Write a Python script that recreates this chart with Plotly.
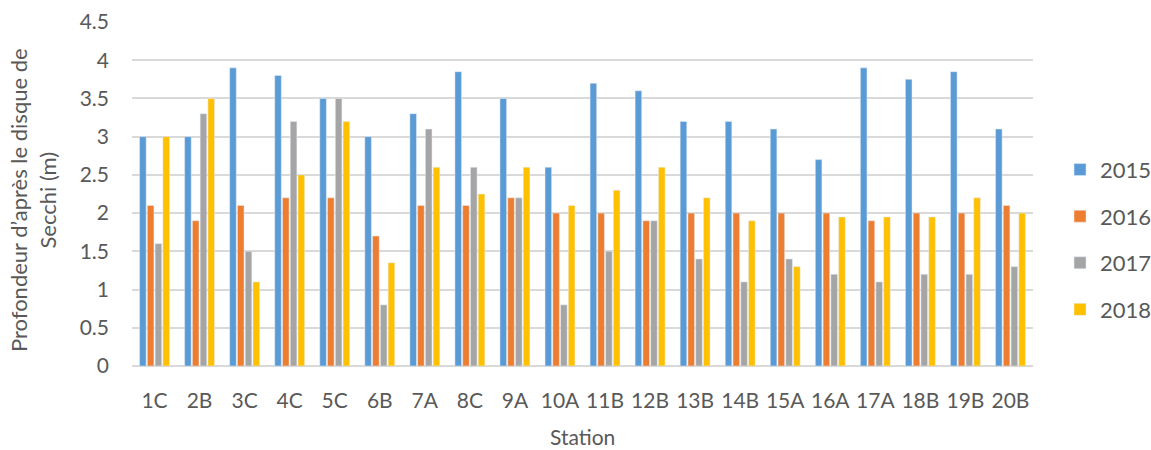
import plotly.graph_objects as go

stations = ["1C", "2B", "3C", "4C", "5C", "6B", "7A", "8C", "9A", "10A",
            "11B", "12B", "13B", "14B", "15A", "16A", "17A", "18B", "19B", "20B"]
v2015 = [3.0, 3.0, 3.9, 3.8, 3.5, 3.0, 3.3, 3.85, 3.5, 2.6,
         3.7, 3.6, 3.2, 3.2, 3.1, 2.7, 3.9, 3.75, 3.85, 3.1]
v2016 = [2.1, 1.9, 2.1, 2.2, 2.2, 1.7, 2.1, 2.1, 2.2, 2.0,
         2.0, 1.9, 2.0, 2.0, 2.0, 2.0, 1.9, 2.0, 2.0, 2.1]
v2017 = [1.6, 3.3, 1.5, 3.2, 3.5, 0.8, 3.1, 2.6, 2.2, 0.8,
         1.5, 1.9, 1.4, 1.1, 1.4, 1.2, 1.1, 1.2, 1.2, 1.3]
v2018 = [3.0, 3.5, 1.1, 2.5, 3.2, 1.35, 2.6, 2.25, 2.6, 2.1,
         2.3, 2.6, 2.2, 1.9, 1.3, 1.95, 1.95, 1.95, 2.2, 2.0]
years = ["2015", "2016", "2017", "2018"]
colors = ["#5B9BD5", "#ED7D31", "#A5A5A5", "#FFC000"]
series = [v2015, v2016, v2017, v2018]
yticks = [0, 0.5, 1, 1.5, 2, 2.5, 3, 3.5, 4, 4.5]
ytick_text = ["0", "0.5", "1", "1.5", "2", "2.5", "3", "3.5", "4", "4.5"]

FONT = "Lato"
TXT = "#595959"

fig = go.Figure()
for name, vals, c in zip(years, series, colors):
    fig.add_trace(go.Bar(x=stations, y=vals, name=name, marker_color=c,
                         legendgroup=name))

fig.update_layout(
    width=1151, height=450,
    margin=dict(l=132, r=118, t=22, b=84, autoexpand=False),
    paper_bgcolor="white", plot_bgcolor="white",
    barmode="group", bargap=0.31, bargroupgap=0.15,
    font=dict(family=FONT, color=TXT, size=21),
    legend=dict(x=1.03, y=0.367, xanchor="left", yanchor="middle",
                font=dict(size=22, color=TXT), tracegroupgap=15,
                traceorder="grouped", itemwidth=30),
    showlegend=True,
)
fig.update_yaxes(range=[0, 4.5], tickvals=yticks, ticktext=ytick_text,
                 showgrid=True, gridcolor="#D9D9D9", gridwidth=1.5,
                 zeroline=True, zerolinecolor="#D9D9D9", zerolinewidth=1.5,
                 showline=False, ticks="", ticklabelstandoff=22,
                 tickfont=dict(size=21, color=TXT))
fig.update_xaxes(showgrid=False, showline=False, ticks="",
                 ticklabelstandoff=20, tickfont=dict(size=21, color=TXT))

fig.add_annotation(text="Profondeur d\u2019après le disque de<br>Secchi (m)",
                   xref="paper", yref="paper", x=0, y=0.5, xanchor="center",
                   yanchor="middle", xshift=-99, yshift=-6, textangle=-90,
                   showarrow=False, font=dict(size=22, color=TXT, family=FONT))
fig.add_annotation(text="Station", xref="paper", yref="paper", x=0.5, y=0,
                   xanchor="center", yanchor="middle", yshift=-70,
                   showarrow=False, font=dict(size=21, color=TXT, family=FONT))

fig.write_html("out.html")
